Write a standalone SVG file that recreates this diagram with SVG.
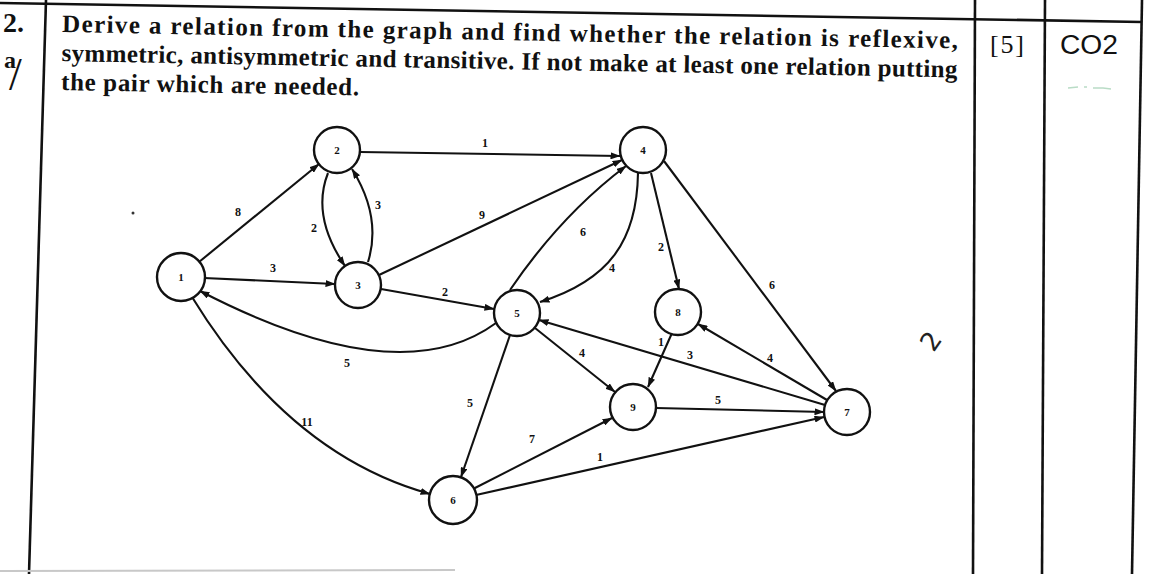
<svg xmlns="http://www.w3.org/2000/svg" width="1152" height="574" viewBox="0 0 1152 574">
<style>
.tbl{stroke:#111;stroke-width:2.6;fill:none}
.q{font-family:"Liberation Serif",serif;font-weight:bold;font-size:25px;fill:#111}
.e{stroke:#111;stroke-width:2.1;fill:none;marker-end:url(#ah)}
.n circle{fill:#fff;stroke:#111;stroke-width:2.4}
.n text{font-family:"Liberation Serif",serif;font-weight:bold;font-size:11px;fill:#111;text-anchor:middle}
.w{font-family:"Liberation Serif",serif;font-weight:bold;font-size:12px;fill:#111;text-anchor:middle}
</style>
<defs>
<marker id="ah" markerUnits="userSpaceOnUse" markerWidth="10" markerHeight="7" refX="9.5" refY="3.5" orient="auto">
<path d="M0,0 L10,3.5 L0,7 z" fill="#111"/>
</marker>
</defs>
<rect width="1152" height="574" fill="#fff"/>
<g id="table">
<line class="tbl" x1="0" y1="3" x2="1142" y2="22"/>
<line class="tbl" x1="46" y1="0" x2="29" y2="574"/>
<line class="tbl" x1="975" y1="0" x2="973" y2="574"/>
<line class="tbl" x1="1045" y1="0" x2="1042" y2="574"/>
<line class="tbl" x1="1142" y1="0" x2="1132" y2="574"/>
<line x1="0" y1="571" x2="455" y2="570" stroke="#c8c8c8" stroke-width="2"/>
</g>
<g id="question">
<text x="3" y="32" style="font-family:'Liberation Serif',serif;font-weight:bold;font-size:28px;fill:#111">2.</text>
<text x="4" y="68" style="font-family:'Liberation Serif',serif;font-weight:bold;font-size:24px;fill:#111">a<tspan dx="-7" dy="22" style="font-size:46px;font-weight:normal">/</tspan></text>
<g transform="rotate(1.05 62 32)">
<text class="q" x="62" y="32" textLength="896" lengthAdjust="spacing">Derive a relation from the graph and find whether the relation is reflexive,</text>
<text class="q" x="62" y="61" textLength="896" lengthAdjust="spacing">symmetric, antisymmetric and transitive. If not make at least one relation putting</text>
<text class="q" x="62" y="90" textLength="298" lengthAdjust="spacing">the pair which are needed.</text>
</g>
<text x="990" y="53" textLength="34" style="font-family:'Liberation Serif',serif;font-size:26px;fill:#111">[5]</text>
<text x="1060" y="54" textLength="58" lengthAdjust="spacingAndGlyphs" style="font-family:'Liberation Sans',sans-serif;font-size:27px;fill:#111">CO2</text>
<text x="931" y="341" transform="rotate(-55 931 341)" text-anchor="middle" dominant-baseline="central" style="font-family:'DejaVu Sans',sans-serif;font-size:26px;fill:#222">2</text>
<path d="M1068,88 l10,-1 m6,0 l3,0 m6,1 l10,0 l8,1" stroke="#b9dcc6" stroke-width="1.5" fill="none"/>
<circle cx="133" cy="213" r="1.5" fill="#333"/>
</g>
<g id="connectors">
<line class="e" x1="199" y1="262" x2="319" y2="164"/>
<line class="e" x1="204" y1="278" x2="335" y2="284"/>
<line class="e" x1="360" y1="152" x2="620" y2="156"/>
<path class="e" d="M328,173 Q311,216 345,266"/>
<path class="e" d="M368,262 Q382,217 352,169"/>
<line class="e" x1="379" y1="275" x2="622" y2="160"/>
<line class="e" x1="381" y1="289" x2="494" y2="309"/>
<path class="e" d="M510,290 Q561,215 626,166"/>
<path class="e" d="M638,173 C637,240 610,280 540,302"/>
<line class="e" x1="651" y1="173" x2="679" y2="289"/>
<line class="e" x1="664" y1="161" x2="836" y2="391"/>
<path class="e" d="M496,323 Q399,394 200,291"/>
<path class="e" d="M192,297 Q289,455 430,494"/>
<line class="e" x1="510" y1="335" x2="461" y2="477"/>
<line class="e" x1="535" y1="328" x2="615" y2="392"/>
<line class="e" x1="825" y1="405" x2="539" y2="320"/>
<line class="e" x1="827" y1="400" x2="698" y2="324"/>
<line class="e" x1="672" y1="333" x2="648" y2="387"/>
<line class="e" x1="656" y1="408" x2="824" y2="412"/>
<line class="e" x1="473" y1="489" x2="612" y2="418"/>
<line class="e" x1="476" y1="495" x2="824" y2="417"/>
</g>
<g id="weights">
<text class="w" x="238" y="216">8</text>
<text class="w" x="273" y="272">3</text>
<text class="w" x="485" y="147">1</text>
<text class="w" x="314" y="232">2</text>
<text class="w" x="378" y="209">3</text>
<text class="w" x="482" y="219">9</text>
<text class="w" x="445" y="296">2</text>
<text class="w" x="583" y="236">6</text>
<text class="w" x="612" y="272">4</text>
<text class="w" x="661" y="251">2</text>
<text class="w" x="772" y="289">6</text>
<text class="w" x="347" y="367">5</text>
<text class="w" x="307" y="426">11</text>
<text class="w" x="470" y="407">5</text>
<text class="w" x="582" y="357">4</text>
<text class="w" x="661" y="346">1</text>
<text class="w" x="690" y="359">3</text>
<text class="w" x="770" y="362">4</text>
<text class="w" x="718" y="404">5</text>
<text class="w" x="532" y="443">7</text>
<text class="w" x="600" y="461">1</text>
</g>
<g id="node1" class="n"><circle cx="181" cy="277" r="24"/><text x="181" y="281">1</text></g>
<g id="node2" class="n"><circle cx="337" cy="150" r="23"/><text x="337" y="154">2</text></g>
<g id="node3" class="n"><circle cx="358" cy="285" r="23"/><text x="358" y="289">3</text></g>
<g id="node4" class="n"><circle cx="643" cy="150" r="23"/><text x="643" y="154">4</text></g>
<g id="node5" class="n"><circle cx="517" cy="313" r="23"/><text x="517" y="317">5</text></g>
<g id="node6" class="n"><circle cx="453" cy="500" r="24"/><text x="453" y="504">6</text></g>
<g id="node7" class="n"><circle cx="847" cy="412" r="23"/><text x="847" y="416">7</text></g>
<g id="node8" class="n"><circle cx="678" cy="312" r="23"/><text x="678" y="316">8</text></g>
<g id="node9" class="n"><circle cx="633" cy="407" r="23"/><text x="633" y="411">9</text></g>
</svg>
